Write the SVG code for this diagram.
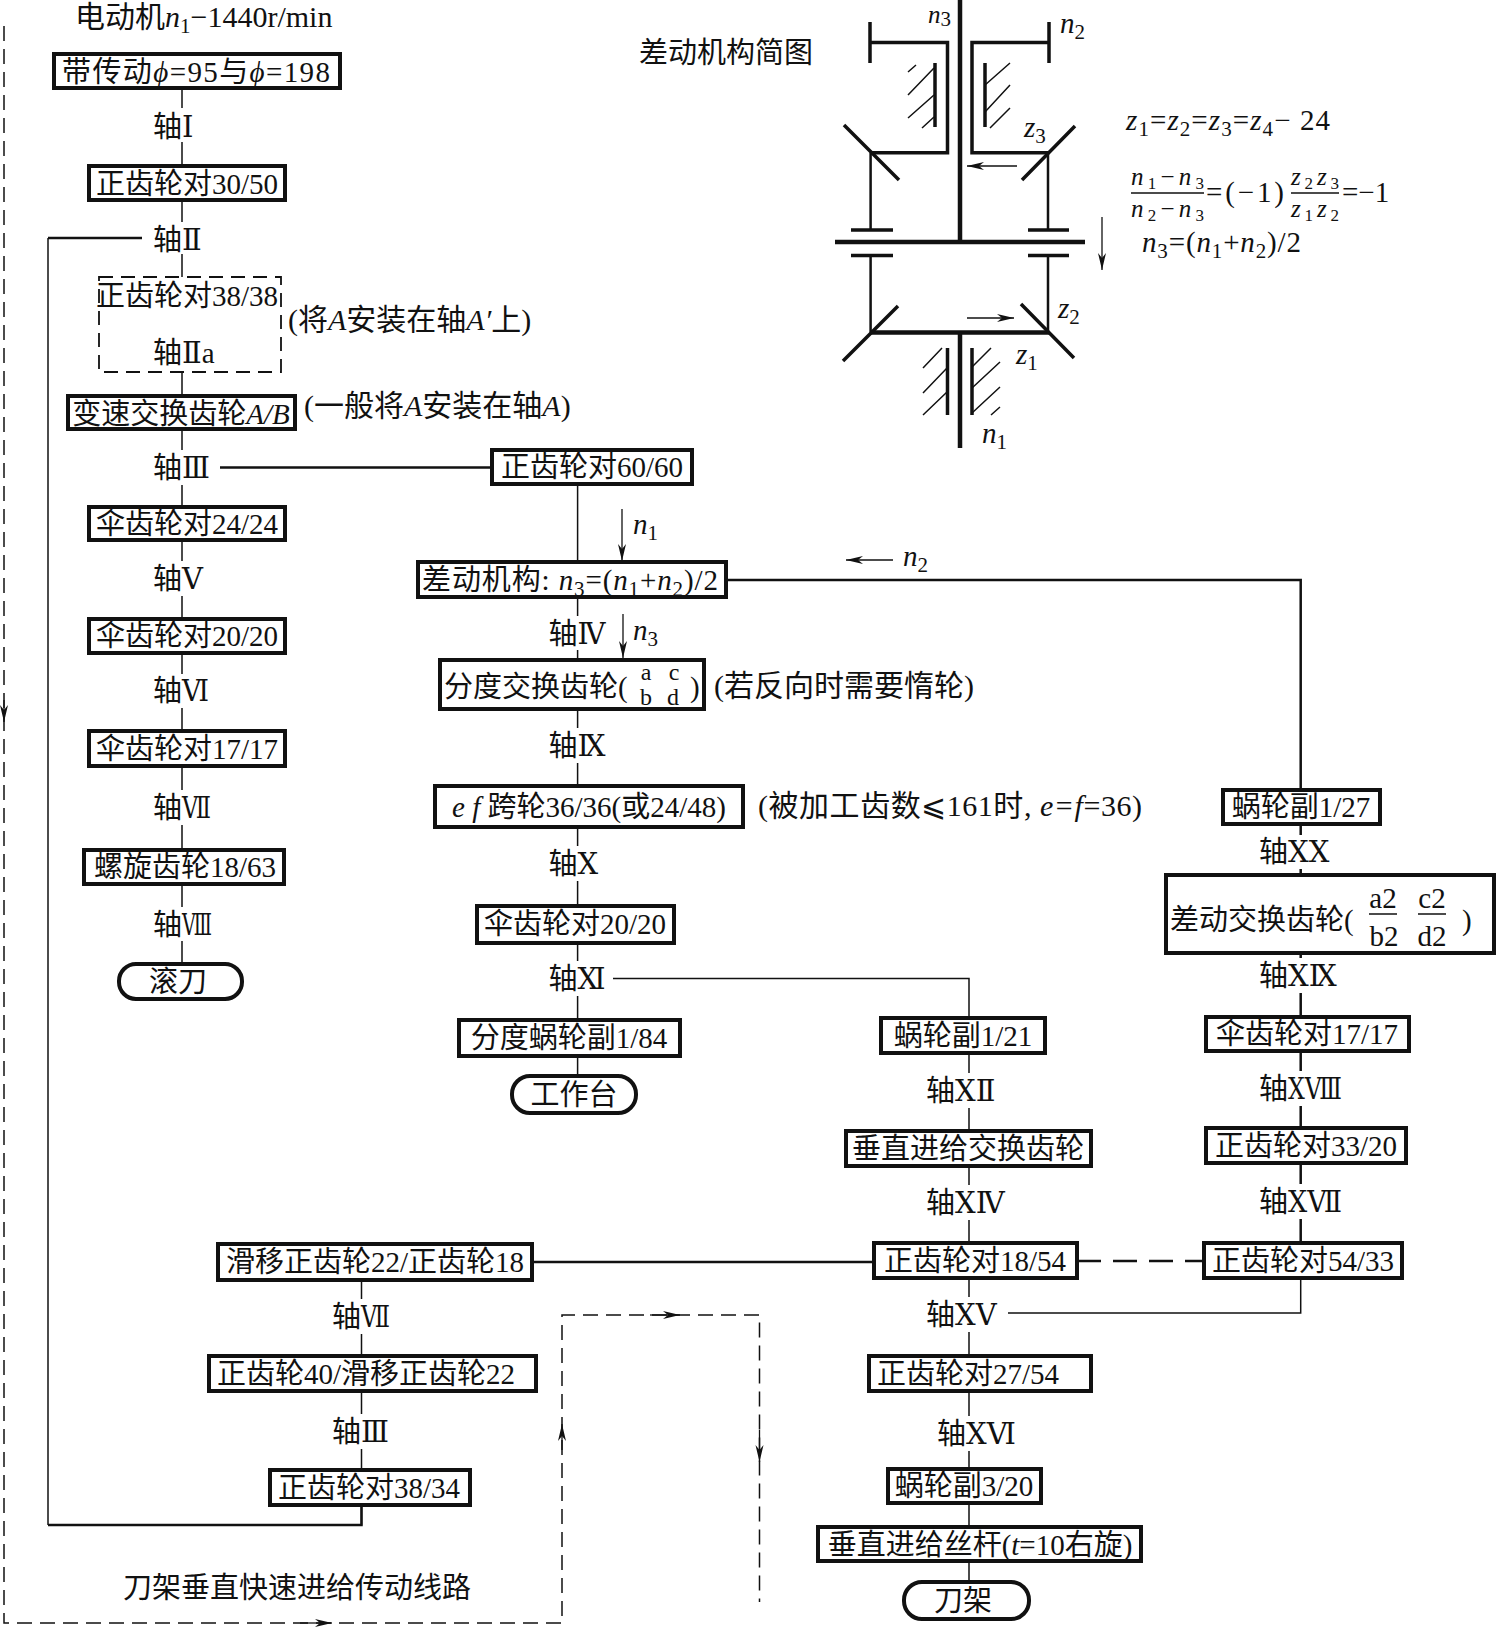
<svg xmlns="http://www.w3.org/2000/svg" width="1496" height="1629" viewBox="0 0 1496 1629">
<style>
text{font-family:"Liberation Serif","DejaVu Serif","Noto Sans CJK SC",serif;font-size:29px;fill:#111}
.m{text-anchor:middle}
.i{font-style:italic}
.s{font-size:21px;font-style:normal}
.f{font-size:24px}
.n{font-size:30px}
.fr{font-size:25px}
.fr .s{font-size:17px}
.b{fill:#fff;stroke:#111;stroke-width:4}
.c{fill:none;stroke:#111;stroke-width:1.5}
.k{fill:none;stroke:#111;stroke-width:2.5}
.h{fill:none;stroke:#111;stroke-width:4.5}
.q{fill:none;stroke:#111;stroke-width:3.5}
.t{fill:none;stroke:#111;stroke-width:1.5}
.d{fill:none;stroke:#111;stroke-width:1.5;stroke-dasharray:15 8}
.ar{fill:none;stroke:#111;stroke-width:1.3}
</style>
<defs><marker id="a" markerWidth="20" markerHeight="10" refX="18" refY="5" orient="auto" markerUnits="userSpaceOnUse"><path d="M1 1L18 5L1 9L6 5Z" fill="#111"/></marker></defs>
<rect width="1496" height="1629" fill="#fff"/>
<g id="connectors">
<path class="c" d="M182 88V108M182 142V166M182 200V222M182 254V277M182 372V396M182 429V450M182 485V507M182 540V561M182 596V619M182 653V674M182 708V731M182 766V790M182 825V850M182 884V907M182 941V964"/>
<path class="k" d="M142 238H48M48 1525H361.500V1504"/>
<path class="c" d="M48 238V1525"/>
<path class="k" d="M220 467.500H492"/>
<path class="c" d="M577.600 484V562M577.600 597V616M577.600 650V660M577.600 709V728M577.600 763V786M577.600 827V846M577.600 881V906M577.600 943V961M577.600 996V1020M577.600 1055V1076"/>
<path class="k" d="M725 580H1300.700V790"/>
<path class="c" d="M613 978.600H969V1018"/>
<path class="c" d="M969 1053V1073M969 1108V1131M969 1166V1185M969 1220V1243M969 1278V1297M969 1332V1356M969 1391V1416M969 1451V1469M969 1503V1527M969 1561V1582"/>
<path class="k" d="M1300.700 824V835M1300.700 869V875M1300.700 953V958M1300.700 993V1017M1300.700 1051V1071M1300.700 1106V1128M1300.700 1162V1184M1300.700 1219V1243"/>
<path class="c" d="M1300.700 1278V1313H1008"/>
<path class="k" d="M532 1262H874"/>
<path class="k" d="M1077 1261H1204" stroke-dasharray="24 12"/>
<path class="c" d="M361.500 1280V1299M361.500 1334V1356M361.500 1391V1414M361.500 1449V1470M361.500 1504V1525"/>
<path class="d" d="M4 26V1623H562V1315H759.500V1602"/>
<path class="ar" d="M4 700V722" marker-end="url(#a)"/>
<path class="ar" d="M300 1623H332" marker-end="url(#a)"/>
<path class="ar" d="M562 1450V1424" marker-end="url(#a)"/>
<path class="ar" d="M650 1315H680" marker-end="url(#a)"/>
<path class="ar" d="M759.500 1430V1462" marker-end="url(#a)"/>
<path class="ar" d="M622 509V561" marker-end="url(#a)"/>
<path class="ar" d="M623 614V658" marker-end="url(#a)"/>
<path class="ar" d="M893 560H846" marker-end="url(#a)"/>
</g>
<g id="title"><text class="n" x="75" y="27">电动机<tspan class="i">n</tspan><tspan class="s" dy="6">1</tspan><tspan dy="-6">−1440r/min</tspan></text></g>
<g id="n-belt"><rect class="b" x="54" y="54" width="286" height="34"/><text x="62" y="82" textLength="268" lengthAdjust="spacing">带传动<tspan class="i">ϕ</tspan>=95与<tspan class="i">ϕ</tspan>=198</text></g>
<g id="a1"><text x="153" y="137">轴Ⅰ</text></g>
<g id="n-3050"><rect class="b" x="89" y="166" width="196" height="34"/><text class="m" x="187" y="194">正齿轮对30/50</text></g>
<g id="a2"><text x="153" y="250">轴Ⅱ</text></g>
<g id="n-3838"><rect x="99" y="277" width="182" height="95" fill="#fff" stroke="#111" stroke-width="1.800" stroke-dasharray="14 8"/><text class="m" x="187" y="306">正齿轮对38/38</text><text x="153" y="363">轴Ⅱa</text></g>
<g id="note-a1"><text class="n" x="288" y="330">(将<tspan class="i">A</tspan>安装在轴<tspan class="i">A′</tspan>上)</text></g>
<g id="n-ab"><rect class="b" x="68" y="396" width="227" height="33"/><text class="m" x="181" y="424">变速交换齿轮<tspan class="i">A/B</tspan></text></g>
<g id="note-a2"><text class="n" x="304" y="416">(一般将<tspan class="i">A</tspan>安装在轴<tspan class="i">A</tspan>)</text></g>
<g id="a3"><text x="153" y="478">轴<tspan textLength="28" lengthAdjust="spacingAndGlyphs">Ⅲ</tspan></text></g>
<g id="n-6060"><rect class="b" x="492" y="450" width="200" height="34"/><text class="m" x="592" y="477">正齿轮对60/60</text></g>
<g id="n-2424"><rect class="b" x="89" y="507" width="196" height="33"/><text class="m" x="187" y="534">伞齿轮对24/24</text></g>
<g id="a5"><text x="153" y="589">轴Ⅴ</text></g>
<g id="n-2020"><rect class="b" x="89" y="619" width="196" height="34"/><text class="m" x="187" y="646">伞齿轮对20/20</text></g>
<g id="a6"><text x="153" y="701">轴<tspan textLength="27" lengthAdjust="spacingAndGlyphs">Ⅵ</tspan></text></g>
<g id="n-1717"><rect class="b" x="89" y="731" width="196" height="35"/><text class="m" x="187" y="759">伞齿轮对17/17</text></g>
<g id="a7"><text x="153" y="818">轴<tspan textLength="29" lengthAdjust="spacingAndGlyphs">Ⅶ</tspan></text></g>
<g id="n-1863"><rect class="b" x="84" y="850" width="200" height="34"/><text class="m" x="185" y="877">螺旋齿轮18/63</text></g>
<g id="a8"><text x="153" y="935">轴<tspan textLength="30" lengthAdjust="spacingAndGlyphs">Ⅷ</tspan></text></g>
<g id="n-hob"><rect class="b" x="119" y="964" width="123" height="35" rx="17"/><text class="m" x="178" y="992">滚刀</text></g>
<g id="n-diff"><rect class="b" x="418" y="562" width="308" height="35"/><text x="422" y="590" textLength="296" lengthAdjust="spacing">差动机构: <tspan class="i">n</tspan><tspan class="s" dy="6">3</tspan><tspan dy="-6">=(</tspan><tspan class="i">n</tspan><tspan class="s" dy="6">1</tspan><tspan dy="-6">+</tspan><tspan class="i">n</tspan><tspan class="s" dy="6">2</tspan><tspan dy="-6">)/2</tspan></text></g>
<g id="l-n1"><text x="633" y="534" class="i">n<tspan class="s" dy="6">1</tspan></text></g>
<g id="l-n2"><text x="903" y="566" class="i">n<tspan class="s" dy="6">2</tspan></text></g>
<g id="l-n3"><text x="633" y="640" class="i">n<tspan class="s" dy="6">3</tspan></text></g>
<g id="a4"><text x="548.500" y="644">轴<tspan textLength="28" lengthAdjust="spacingAndGlyphs">Ⅳ</tspan></text></g>
<g id="n-index"><rect class="b" x="440" y="660" width="264" height="49"/><text x="444" y="697">分度交换齿轮(</text><text class="m f" x="646" y="680">a</text><text class="m f" x="646" y="705">b</text><text class="m f" x="674" y="680">c</text><text class="m f" x="673" y="705">d</text><text x="690" y="697">)</text></g>
<g id="note-idle"><text class="n" x="714" y="696">(若反向时需要惰轮)</text></g>
<g id="a9"><text x="548.500" y="756">轴Ⅸ</text></g>
<g id="n-ef"><rect class="b" x="435" y="786" width="308" height="41"/><text class="m" x="589" y="817"><tspan class="i">e f </tspan>跨轮36/36(或24/48)</text></g>
<g id="note-ef"><text class="n" x="758" y="816" textLength="384" lengthAdjust="spacing">(被加工齿数⩽161时, <tspan class="i">e=f</tspan>=36)</text></g>
<g id="a10"><text x="548.500" y="874">轴Ⅹ</text></g>
<g id="n-2020b"><rect class="b" x="477" y="906" width="197" height="37"/><text class="m" x="575" y="934">伞齿轮对20/20</text></g>
<g id="a11"><text x="548.500" y="989">轴Ⅺ</text></g>
<g id="n-184"><rect class="b" x="459" y="1020" width="221" height="36"/><text class="m" x="569" y="1048">分度蜗轮副1/84</text></g>
<g id="n-table"><rect class="b" x="512" y="1076" width="124" height="37" rx="18"/><text class="m" x="574" y="1105">工作台</text></g>
<g id="n-127"><rect class="b" x="1223" y="790" width="157" height="34"/><text class="m" x="1301" y="817">蜗轮副1/27</text></g>
<g id="a20"><text x="1259" y="862">轴ⅩⅩ</text></g>
<g id="n-diffx"><rect class="b" x="1166" y="875" width="328" height="78"/><text x="1170" y="930">差动交换齿轮(</text><text class="m" x="1383" y="908">a2</text><path class="c" d="M1369 914H1397M1418 914H1446"/><text class="m" x="1384" y="946">b2</text><text class="m" x="1432" y="908">c2</text><text class="m" x="1432" y="946">d2</text><text x="1462" y="930">)</text></g>
<g id="a19"><text x="1259" y="986">轴ⅩⅨ</text></g>
<g id="n-1717b"><rect class="b" x="1206" y="1017" width="203" height="34"/><text class="m" x="1307" y="1044">伞齿轮对17/17</text></g>
<g id="a18"><text x="1259" y="1099">轴<tspan textLength="54" lengthAdjust="spacingAndGlyphs">ⅩⅧ</tspan></text></g>
<g id="n-3320"><rect class="b" x="1206" y="1128" width="200" height="35"/><text class="m" x="1306" y="1156">正齿轮对33/20</text></g>
<g id="a17"><text x="1259" y="1212">轴<tspan textLength="54" lengthAdjust="spacingAndGlyphs">ⅩⅦ</tspan></text></g>
<g id="n-5433"><rect class="b" x="1204" y="1243" width="198" height="35"/><text class="m" x="1303" y="1271">正齿轮对54/33</text></g>
<g id="n-1854"><rect class="b" x="874" y="1243" width="203" height="35"/><text class="m" x="975" y="1271">正齿轮对18/54</text></g>
<g id="a15"><text x="926" y="1325">轴ⅩⅤ</text></g>
<g id="n-121"><rect class="b" x="881" y="1018" width="164" height="35"/><text class="m" x="963" y="1046">蜗轮副1/21</text></g>
<g id="a12"><text x="926" y="1101">轴ⅩⅡ</text></g>
<g id="n-vert"><rect class="b" x="846" y="1131" width="245" height="35"/><text class="m" x="968" y="1159">垂直进给交换齿轮</text></g>
<g id="a14"><text x="926" y="1213">轴ⅩⅣ</text></g>
<g id="n-2754"><rect class="b" x="869" y="1356" width="222" height="35"/><text class="m" x="968" y="1384">正齿轮对27/54</text></g>
<g id="a16"><text x="937" y="1444">轴ⅩⅥ</text></g>
<g id="n-320"><rect class="b" x="888" y="1469" width="153" height="34"/><text class="m" x="964" y="1496">蜗轮副3/20</text></g>
<g id="n-screw"><rect class="b" x="818" y="1527" width="323" height="34"/><text class="m" x="980" y="1555">垂直进给丝杆(<tspan class="i">t</tspan>=10右旋)</text></g>
<g id="n-post"><rect class="b" x="904" y="1582" width="125" height="37" rx="18"/><text class="m" x="963" y="1611">刀架</text></g>
<g id="n-slide"><rect class="b" x="218" y="1244" width="314" height="36"/><text class="m" x="375" y="1272">滑移正齿轮22/正齿轮18</text></g>
<g id="a7b"><text x="332" y="1327">轴<tspan textLength="29" lengthAdjust="spacingAndGlyphs">Ⅶ</tspan></text></g>
<g id="n-4022"><rect class="b" x="209" y="1356" width="327" height="35"/><text class="m" x="366" y="1384">正齿轮40/滑移正齿轮22</text></g>
<g id="a3b"><text x="332" y="1442">轴<tspan textLength="28" lengthAdjust="spacingAndGlyphs">Ⅲ</tspan></text></g>
<g id="n-3834"><rect class="b" x="270" y="1470" width="200" height="35"/><text class="m" x="369" y="1498">正齿轮对38/34</text></g>
<g id="label-fast"><text x="123" y="1598">刀架垂直快速进给传动线路</text></g>
<g id="differential">
<text x="639" y="63">差动机构简图</text>
<path class="h" d="M960 0V242M960 332V448M835 242H1085M870.600 332.500H1049"/>
<path class="q" d="M870 22V63M870 42.500H947.500V152.700H870M1049 22V63M1049 42.500H972V152.700H1049"/>
<path class="q" d="M844 125L899 180M1075 126L1022 180M851 230H893M1028 230H1069M851 255.500H893M1028 255.500H1069"/>
<path class="k" d="M870.600 152.700V230M1048 152.700V230M870.600 255.500V332.500M1048 255.500V332.500"/>
<path class="q" d="M843 361L898 306M1021 304L1074 358"/>
<path class="q" d="M935 63V127M985 63V127M947.500 348V415M972 348V415"/>
<path class="t" d="M908 72L916 65M908 95L934 68M908 118L934 95M922 128L934 117M985 85L1010 63M985 112L1010 85M990 128L1010 108M923 368L942 348M923 393L947 368M923 415L947 392M972 367L991 348M972 388L1000 362M972 413L1000 387M991 415L1000 407"/>
<path class="ar" d="M1017 166H967" marker-end="url(#a)"/>
<path class="ar" d="M967 318H1014" marker-end="url(#a)"/>
<path class="ar" d="M1102 217V270" marker-end="url(#a)"/>
<text x="928" y="23" class="i" style="font-size:25px">n<tspan class="s" dy="3">3</tspan></text>
<text x="1060" y="33" class="i">n<tspan class="s" dy="6">2</tspan></text>
<text x="1024" y="137" class="i">z<tspan class="s" dy="6">3</tspan></text>
<text x="1058" y="318" class="i">z<tspan class="s" dy="6">2</tspan></text>
<text x="1016" y="364" class="i">z<tspan class="s" dy="6">1</tspan></text>
<text x="982" y="443" class="i">n<tspan class="s" dy="6">1</tspan></text>
<text x="1126" y="130" textLength="204" lengthAdjust="spacing"><tspan class="i">z</tspan><tspan class="s" dy="6">1</tspan><tspan dy="-6">=</tspan><tspan class="i">z</tspan><tspan class="s" dy="6">2</tspan><tspan dy="-6">=</tspan><tspan class="i">z</tspan><tspan class="s" dy="6">3</tspan><tspan dy="-6">=</tspan><tspan class="i">z</tspan><tspan class="s" dy="6">4</tspan><tspan dy="-6">−</tspan> 24</text>
<path class="c" d="M1131 193H1204M1291 193H1339"/>
<text class="fr" x="1131" y="185" textLength="73" lengthAdjust="spacing"><tspan class="i">n</tspan><tspan class="s" dy="4">1</tspan><tspan dy="-4">−</tspan><tspan class="i">n</tspan><tspan class="s" dy="4">3</tspan></text>
<text class="fr" x="1131" y="217" textLength="73" lengthAdjust="spacing"><tspan class="i">n</tspan><tspan class="s" dy="4">2</tspan><tspan dy="-4">−</tspan><tspan class="i">n</tspan><tspan class="s" dy="4">3</tspan></text>
<text x="1206" y="202" textLength="78" lengthAdjust="spacing">=(−1)</text>
<text class="fr" x="1291" y="185" textLength="48" lengthAdjust="spacing"><tspan class="i">z</tspan><tspan class="s" dy="4">2</tspan><tspan class="i" dy="-4">z</tspan><tspan class="s" dy="4">3</tspan></text>
<text class="fr" x="1291" y="217" textLength="48" lengthAdjust="spacing"><tspan class="i">z</tspan><tspan class="s" dy="4">1</tspan><tspan class="i" dy="-4">z</tspan><tspan class="s" dy="4">2</tspan></text>
<text x="1342" y="202">=−1</text>
<text x="1142" y="252" textLength="159" lengthAdjust="spacing"><tspan class="i">n</tspan><tspan class="s" dy="6">3</tspan><tspan dy="-6">=(</tspan><tspan class="i">n</tspan><tspan class="s" dy="6">1</tspan><tspan dy="-6">+</tspan><tspan class="i">n</tspan><tspan class="s" dy="6">2</tspan><tspan dy="-6">)/2</tspan></text>
</g>
</svg>
